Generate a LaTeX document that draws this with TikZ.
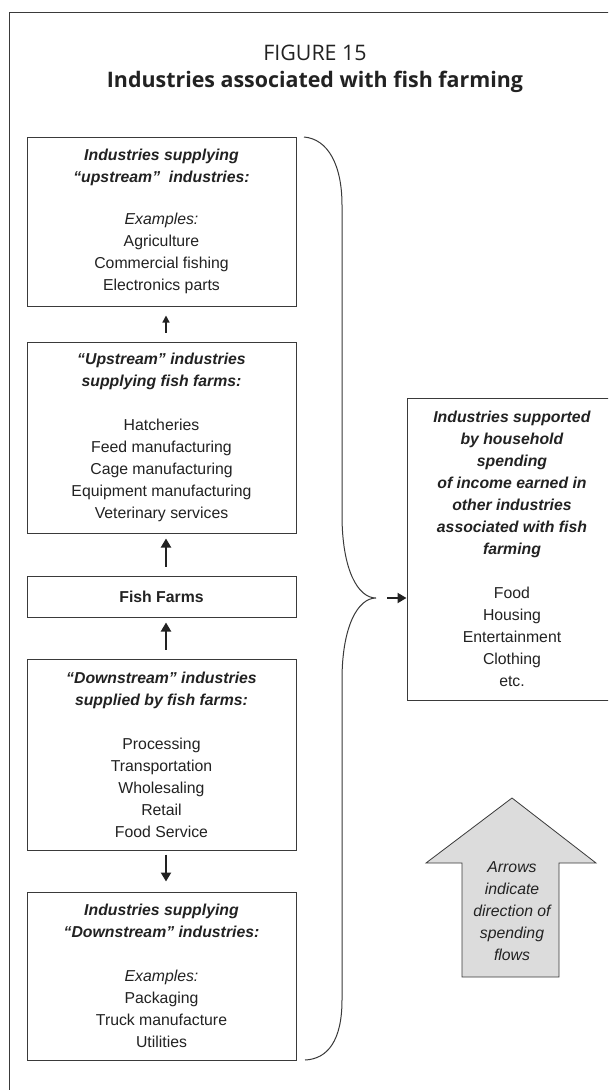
\documentclass[tikz,border=0pt]{standalone}
\usepackage{fontspec}
\setmainfont{Liberation Sans}
\newfontfamily\titlefont{Open Sans}
\usetikzlibrary{arrows.meta}
\definecolor{ink}{HTML}{222222}
\definecolor{edge}{HTML}{3A3A3A}
\definecolor{fillg}{HTML}{DCDCDC}
\begin{document}
\begin{tikzpicture}[x=1pt,y=-1pt,
  boxst/.style={draw=edge, line width=1pt, text=ink, align=center, inner sep=0pt,
    font=\fontsize{15.8}{22}\selectfont},
  flowarrow/.style={draw=ink, line width=2pt, -{Triangle[length=9pt,width=10pt]}},
  thinarrow/.style={draw=ink, line width=1.4pt, -{Triangle[length=7pt,width=7pt]}},
  titlest/.style={text=ink, anchor=base, inner sep=0pt},
]
\clip (0,0) rectangle (608,1090);
\fill[white] (0,0) rectangle (608,1090);
% frame
\draw[edge, line width=1.3pt] (9.7,1100) -- (9.7,12.7) -- (620,12.7);
% title
\node[titlest, font=\titlefont\fontsize{21.4}{26}\selectfont] (t1) at (315,60) {FIGURE 15};
\node[titlest, font=\titlefont\bfseries\fontsize{21.4}{26}\selectfont] (t2) at (315,87) {Industries associated with fish farming};
% boxes
\node[boxst, minimum width=269pt, minimum height=169pt] (b1) at (161.5,221.5)
  {\textbf{\textit{Industries supplying}}\\ \textbf{\textit{“upstream”~ industries:}}\\[20pt]
   \textit{Examples:}\\ Agriculture\\ Commercial fishing\\ Electronics parts};
\node[boxst, minimum width=269pt, minimum height=191pt] (b2) at (161.5,437.5)
  {\textbf{\textit{“Upstream” industries}}\\ \textbf{\textit{supplying fish farms:}}\\[22pt]
   Hatcheries\\ Feed manufacturing\\ Cage manufacturing\\ Equipment manufacturing\\ Veterinary services};
\node[boxst, minimum width=269pt, minimum height=41pt] (b3) at (161.5,596.5)
  {\textbf{Fish Farms}};
\node[boxst, minimum width=269pt, minimum height=191pt] (b4) at (161.5,754.5)
  {\textbf{\textit{“Downstream” industries}}\\ \textbf{\textit{supplied by fish farms:}}\\[22pt]
   Processing\\ Transportation\\ Wholesaling\\ Retail\\ Food Service};
\node[boxst, minimum width=269pt, minimum height=168pt] (b5) at (161.5,976)
  {\textbf{\textit{Industries supplying}}\\ \textbf{\textit{“Downstream” industries:}}\\[22pt]
   \textit{Examples:}\\ Packaging\\ Truck manufacture\\ Utilities};
\node[boxst, minimum width=210pt, minimum height=302pt] (rb) at (512,549)
  {\textbf{\textit{Industries supported}}\\ \textbf{\textit{by household}}\\ \textbf{\textit{spending}}\\
   \textbf{\textit{of income earned in}}\\ \textbf{\textit{other industries}}\\
   \textbf{\textit{associated with fish}}\\ \textbf{\textit{farming}}\\[22pt]
   Food\\ Housing\\ Entertainment\\ Clothing\\ etc.};
% vertical arrows
\draw[thinarrow, shorten <=9pt, shorten >=9pt] ([xshift=4.5pt]b2.north) -- ([xshift=4.5pt]b1.south);
\draw[flowarrow, shorten <=9pt, shorten >=5pt] ([xshift=4.5pt]b3.north) -- ([xshift=4.5pt]b2.south);
\draw[flowarrow, shorten <=9pt, shorten >=5pt] ([xshift=4.5pt]b4.north) -- ([xshift=4.5pt]b3.south);
\draw[flowarrow, shorten <=4pt, shorten >=10pt] ([xshift=4.5pt]b4.south) -- ([xshift=4.5pt]b5.north);
% bracket
\coordinate (tip) at (376,598);
\draw[edge, line width=1pt] (304,137) .. controls (328,139) and (342,165) .. (342,205)
  -- (342,515) .. controls (342,570) and (358,598) .. (tip)
  .. controls (358,598) and (342,626) .. (342,680)
  -- (342,1000) .. controls (342,1040) and (328,1059) .. (305,1060);
\draw[flowarrow, shorten <=11pt] (tip) -- (rb.west |- tip);
% big arrow legend
\filldraw[fill=fillg, draw=edge, line width=0.8pt] (512,798) -- (596,863) -- (559,863) -- (559,977)
  -- (462,977) -- (462,863) -- (426,863) -- cycle;
\node[text=ink, align=center, font=\itshape\fontsize{15.8}{22}\selectfont] (note) at (512,911)
  {Arrows\\indicate\\direction of\\spending\\flows};
\end{tikzpicture}
\end{document}
